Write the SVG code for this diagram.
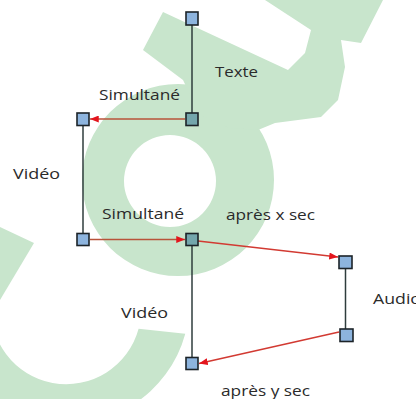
<svg xmlns="http://www.w3.org/2000/svg" width="416" height="399" viewBox="0 0 416 399">
  <style>
    .wm { fill: #c8e5cc; stroke: none; }
    .track { stroke: #2f3d3d; stroke-width: 1.5; fill: none; }
    .flow { stroke: #d23a32; stroke-width: 1.5; fill: none; marker-end: url(#head); }
    .flow.level { stroke: #b8533a; }
    .node rect { fill: #8db4de; stroke: #1c2328; stroke-width: 1.6; }
    .node.sync rect { fill: #74a6ac; }
    .label { font-family: "Open Sans", "Noto Sans", sans-serif; font-size: 15px; fill: #2a2a2a; }
  </style>
  <defs>
    <marker id="head" viewBox="0 0 10 8" refX="10" refY="4" markerWidth="9" markerHeight="7" markerUnits="userSpaceOnUse" orient="auto">
      <path d="M0,0 L10,4 L0,8 Z" fill="#e3151d"/>
    </marker>
  </defs>

  <rect width="416" height="399" fill="#ffffff"/>

  <!-- pale green background emblem -->
  <g id="emblem">
    <path class="wm" fill-rule="evenodd" d="M82,180 a96,96 0 1 0 192,0 a96,96 0 1 0 -192,0 Z M124,181 a46,46 0 1 0 92,0 a46,46 0 1 0 -92,0 Z"/>
    <polygon class="wm" points="143,50 163,12 288,70 305,53 311,30 265,0 383,0 361,43 341,40 345,67 338,100 321,117 275,123 258,130 230,128 200,115 183,80"/>
    <path class="wm" d="M185.3,333.7 A122,122 0 0 1 -53.8,289.4 L-8.4,301.6 A75,75 0 0 0 138.6,328.8 Z"/>
    <polygon class="wm" points="0,227 34,243 0,300"/>
  </g>

  <!-- connectors -->
  <g id="connectors">
    <line class="track" x1="192" y1="18" x2="192" y2="119"/>
    <line class="track" x1="83" y1="119" x2="83" y2="239.5"/>
    <line class="track" x1="192" y1="239.5" x2="192" y2="363.5"/>
    <line class="track" x1="345.5" y1="262" x2="345.5" y2="335"/>
    <line class="flow level" x1="185" y1="119" x2="90" y2="119"/>
    <line class="flow level" x1="90" y1="239.5" x2="185" y2="239.5"/>
    <line class="flow" x1="198" y1="241" x2="338" y2="257"/>
    <line class="flow" x1="339" y1="332" x2="199" y2="363.5"/>
  </g>

  <!-- nodes -->
  <g id="n-texte-start" class="node"><rect x="186" y="12" width="12" height="13"/></g>
  <g id="n-texte-end" class="node sync"><rect x="186" y="113" width="12" height="12.5"/></g>
  <g id="n-video1-start" class="node"><rect x="77" y="113" width="12" height="12.5"/></g>
  <g id="n-video1-end" class="node"><rect x="77" y="233.5" width="12" height="12"/></g>
  <g id="n-video2-start" class="node sync"><rect x="186" y="233.5" width="12" height="12"/></g>
  <g id="n-audio-start" class="node"><rect x="339" y="256" width="13" height="12.5"/></g>
  <g id="n-audio-end" class="node"><rect x="340" y="329" width="13" height="12.5"/></g>
  <g id="n-video2-end" class="node"><rect x="186" y="357.5" width="12" height="12"/></g>

  <!-- labels -->
  <g id="labels">
    <text class="label" x="215" y="76.5" textLength="43" lengthAdjust="spacingAndGlyphs">Texte</text>
    <text class="label" x="99" y="100" textLength="81" lengthAdjust="spacingAndGlyphs">Simultané</text>
    <text class="label" x="13" y="179" textLength="47" lengthAdjust="spacingAndGlyphs">Vidéo</text>
    <text class="label" x="102" y="219" textLength="82" lengthAdjust="spacingAndGlyphs">Simultané</text>
    <text class="label" x="226" y="220" textLength="89" lengthAdjust="spacingAndGlyphs">après x sec</text>
    <text class="label" x="121" y="317.5" textLength="47" lengthAdjust="spacingAndGlyphs">Vidéo</text>
    <text class="label" x="373" y="303.5" textLength="48" lengthAdjust="spacingAndGlyphs">Audio</text>
    <text class="label" x="221" y="396" textLength="89" lengthAdjust="spacingAndGlyphs">après y sec</text>
  </g>
</svg>
